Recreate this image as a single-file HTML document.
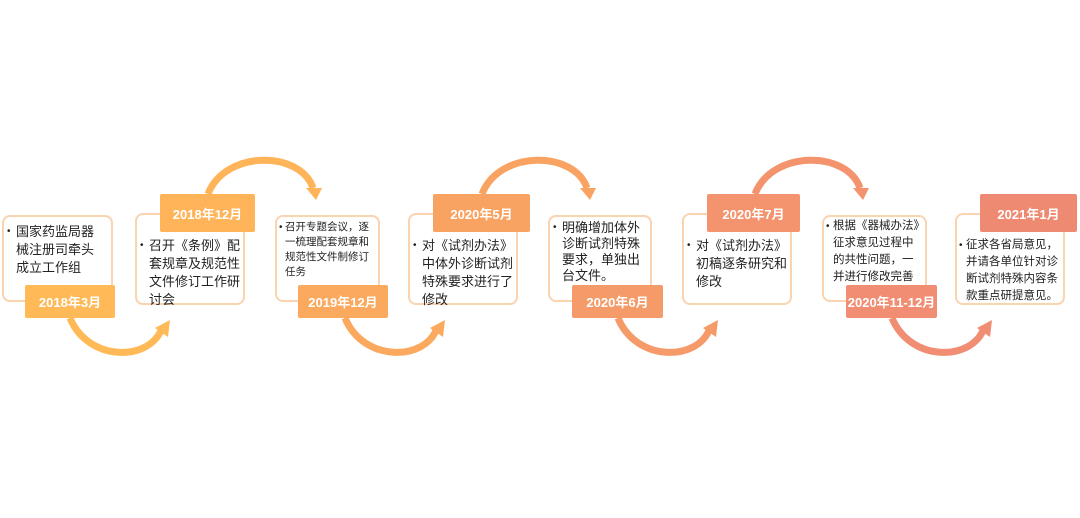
<!DOCTYPE html>
<html><head><meta charset="utf-8"><style>
body{margin:0;width:1080px;height:518px;background:#fff;position:relative;overflow:hidden;font-family:"Liberation Sans","Noto Sans CJK SC",sans-serif}
.b{position:absolute;box-sizing:border-box;border:2px solid #FAD3B0;border-radius:8px;background:#fff;color:#222;font-size:13px;line-height:18px;padding:6px 1px 0 12px}
.b i{font-style:normal;position:absolute;left:3px;font-size:10px}
.l{position:absolute;color:#fff;font-weight:bold;font-size:13px;display:flex;align-items:center;justify-content:center;border-radius:2px;white-space:nowrap}
svg{position:absolute;left:0;top:0}
</style></head><body>
<svg width="1080" height="518">
<g fill="none" stroke-width="7">
<path d="M70,318 C88,362 150,362 162,328" stroke="#FFB957"/>
<path d="M208,194 C225,150 300,150 313,188" stroke="#FFB45A"/>
<path d="M345,318 C363,362 425,362 437,328" stroke="#FBA95E"/>
<path d="M482,194 C499,150 574,150 587,188" stroke="#F9A363"/>
<path d="M618,318 C636,362 698,362 710,328" stroke="#F59B6A"/>
<path d="M755,194 C772,150 847,150 860,188" stroke="#F3946E"/>
<path d="M892,318 C910,362 972,362 984,328" stroke="#F08D72"/>
</g>
<g>
<polygon points="155,328 170,320 168,337" fill="#FFB957"/>
<polygon points="306,188 322,188 316,200" fill="#FFB45A"/>
<polygon points="430,328 445,320 443,337" fill="#FBA95E"/>
<polygon points="580,188 596,188 590,200" fill="#F9A363"/>
<polygon points="703,328 718,320 716,337" fill="#F59B6A"/>
<polygon points="853,188 869,188 863,200" fill="#F3946E"/>
<polygon points="977,328 992,320 990,337" fill="#F08D72"/>
</g>
</svg>
<div class="b" style="left:2px;top:215px;width:111px;height:87px;padding-top:6px;padding-right:12px"><i>•</i>国家药监局器械注册司牵头成立工作组</div>
<div class="l" style="left:25px;top:285px;width:90px;height:33px;background:#FFB957">2018年3月</div>
<div class="b" style="left:135px;top:213px;width:110px;height:92px;padding-top:22px"><i>•</i>召开《条例》配套规章及规范性文件修订工作研讨会</div>
<div class="l" style="left:160px;top:194px;width:95px;height:38px;background:#FFB45A">2018年12月</div>
<div class="b" style="left:275px;top:215px;width:105px;height:87px;font-size:10.5px;line-height:15px;padding-left:8px;padding-top:3px"><i style="left:2px">•</i>召开专题会议，逐一梳理配套规章和规范性文件制修订任务</div>
<div class="l" style="left:298px;top:285px;width:90px;height:33px;background:#FBA95E">2019年12月</div>
<div class="b" style="left:408px;top:213px;width:110px;height:92px;padding-top:22px"><i>•</i>对《试剂办法》中体外诊断试剂特殊要求进行了修改</div>
<div class="l" style="left:433px;top:194px;width:97px;height:38px;background:#F9A363">2020年5月</div>
<div class="b" style="left:548px;top:215px;width:104px;height:87px;padding-top:3px;line-height:16px"><i>•</i>明确增加体外诊断试剂特殊要求，单独出台文件。</div>
<div class="l" style="left:572px;top:285px;width:91px;height:33px;background:#F59B6A">2020年6月</div>
<div class="b" style="left:682px;top:213px;width:110px;height:92px;padding-top:22px"><i>•</i>对《试剂办法》初稿逐条研究和修改</div>
<div class="l" style="left:707px;top:194px;width:93px;height:38px;background:#F3946E">2020年7月</div>
<div class="b" style="left:822px;top:215px;width:105px;height:87px;padding-left:9px;padding-top:1px;font-size:11.5px;line-height:17px"><i style="left:2px">•</i>根据《器械办法》征求意见过程中的共性问题，一并进行修改完善</div>
<div class="l" style="left:846px;top:285px;width:91px;height:33px;background:#F08D72">2020年11-12月</div>
<div class="b" style="left:955px;top:213px;width:110px;height:92px;padding-top:22px;padding-left:9px;font-size:11.5px;line-height:17px"><i style="left:2px">•</i>征求各省局意见，并请各单位针对诊断试剂特殊内容条款重点研提意见。</div>
<div class="l" style="left:980px;top:194px;width:97px;height:38px;background:#EF8A72">2021年1月</div>
</body></html>
